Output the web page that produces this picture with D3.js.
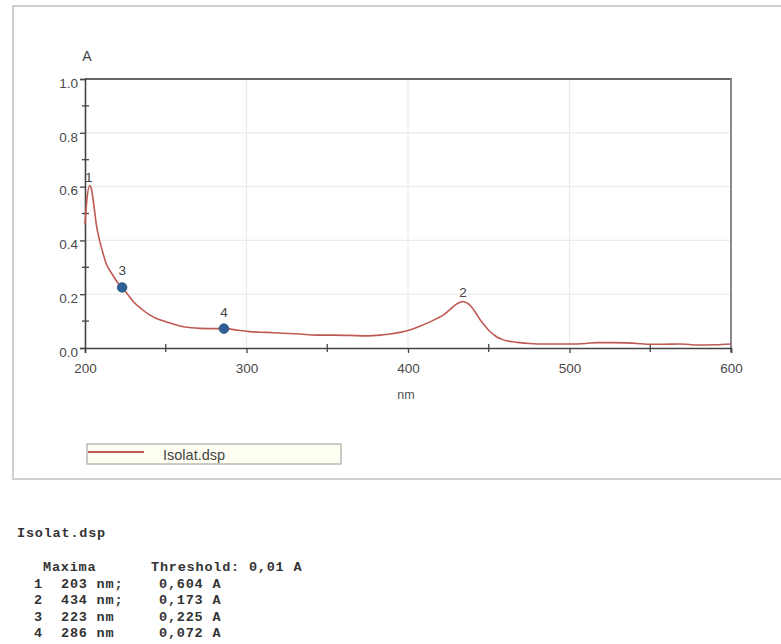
<!DOCTYPE html>
<html>
<head>
<meta charset="utf-8">
<script src="https://cdn.jsdelivr.net/npm/d3@7"></script>
<style>
  html, body { margin: 0; padding: 0; background: #fff; }
  svg { display: block; }
</style>
</head>
<body>
<svg id="chart" width="781" height="644"></svg>
<script>
// ---- data ----
const wavelengths = [200, 201, 203, 204, 205.5, 207, 209, 211, 213, 216.5, 221, 223, 226, 230, 235, 240, 245, 250, 255, 261, 266, 271, 280, 286, 295, 302, 312, 323, 333, 343, 354, 364, 374, 383, 389, 395, 401, 407, 414, 418, 422, 426, 430, 434, 437, 439, 442, 445, 448, 450, 453, 455, 458, 461, 465, 469, 475, 486, 500, 510, 517, 526, 535, 542, 548, 558, 568, 574, 579, 590, 600];
const absorbance  = [0.46, 0.54, 0.604, 0.59, 0.53, 0.46, 0.40, 0.355, 0.315, 0.278, 0.237, 0.225, 0.203, 0.172, 0.145, 0.123, 0.108, 0.098, 0.088, 0.079, 0.075, 0.073, 0.072, 0.072, 0.066, 0.061, 0.058, 0.055, 0.052, 0.048, 0.048, 0.047, 0.045, 0.048, 0.052, 0.058, 0.067, 0.080, 0.098, 0.110, 0.123, 0.143, 0.163, 0.173, 0.166, 0.155, 0.130, 0.102, 0.080, 0.066, 0.050, 0.041, 0.033, 0.027, 0.023, 0.020, 0.017, 0.015, 0.015, 0.017, 0.020, 0.020, 0.019, 0.017, 0.014, 0.014, 0.015, 0.013, 0.011, 0.012, 0.015];

const peakIds   = [1, 2, 3, 4];
const peakNm    = [203, 434, 223, 286];
const peakAbs   = [0.604, 0.173, 0.225, 0.072];
const peakSep   = [";", ";", "", ""];
const peakKind  = ["max", "max", "shoulder", "shoulder"];

const xTicks      = [200, 300, 400, 500, 600];
const xMinorTicks = [250, 350, 450, 550];
const yTicks      = [0, 0.2, 0.4, 0.6, 0.8, 1.0];
const yMinorTicks = [0.1, 0.3, 0.5, 0.7, 0.9];

const seriesName = "Isolat.dsp";
const xTitle = "nm";
const yTitle = "A";
const threshold = 0.01;

// ---- layout ----
const svg = d3.select("#chart");
const L = 85, R = 731, T = 79, B = 348;
const x = d3.scaleLinear().domain([200, 600]).range([L, R]);
const y = d3.scaleLinear().domain([0, 1]).range([B, T]);
const lineColor = "#bf5a52";
const fmtComma = v => d3.format(".3f")(v).replace(".", ",");

// outer frame
svg.append("rect").attr("x", 13).attr("y", 6).attr("width", 790).attr("height", 473)
  .attr("fill", "#fff").attr("stroke", "#cfcfcf").attr("stroke-width", 2);

// grid
const grid = svg.append("g");
grid.selectAll("line.gx").data(xTicks.slice(1, -1)).join("line")
  .attr("x1", d => x(d)).attr("x2", d => x(d)).attr("y1", T).attr("y2", B)
  .attr("stroke", "#ebebeb").attr("stroke-width", 1.2);
grid.selectAll("line.gy").data(yTicks.slice(1, -1)).join("line")
  .attr("x1", L).attr("x2", R).attr("y1", d => y(d)).attr("y2", d => y(d))
  .attr("stroke", "#ebebeb").attr("stroke-width", 1.2);

// top and right frame of plot
svg.append("line").attr("x1", L).attr("x2", R + 1).attr("y1", T).attr("y2", T)
  .attr("stroke", "#666").attr("stroke-width", 2);
svg.append("line").attr("x1", R).attr("x2", R).attr("y1", T).attr("y2", B + 4)
  .attr("stroke", "#8a8a8a").attr("stroke-width", 2);

// axes
const tickFont = "13.5px 'Liberation Sans', Arial, sans-serif";
const yAxis = svg.append("g").attr("transform", `translate(${L},0)`)
  .call(d3.axisLeft(y).tickValues(yTicks).tickFormat(d3.format(".1f")).tickSize(5).tickPadding(2));
yAxis.select(".domain").attr("stroke", "#444").attr("stroke-width", 1.6);
yAxis.selectAll(".tick line").attr("stroke", "#444").attr("stroke-width", 1.3);
yAxis.selectAll(".tick text").attr("fill", "#4a4a4a").style("font", tickFont).attr("dy", "0.62em");

const xAxis = svg.append("g").attr("transform", `translate(0,${B})`)
  .call(d3.axisBottom(x).tickValues(xTicks).tickFormat(d3.format("d")).tickSize(5).tickPadding(10));
xAxis.select(".domain").attr("stroke", "#444").attr("stroke-width", 1.6);
xAxis.selectAll(".tick line").attr("stroke", "#444").attr("stroke-width", 1.3);
xAxis.selectAll(".tick text").attr("fill", "#4a4a4a").style("font", tickFont);

// minor ticks crossing the axes
svg.append("g").selectAll("line").data(yMinorTicks).join("line")
  .attr("x1", L - 3).attr("x2", L + 4).attr("y1", d => y(d)).attr("y2", d => y(d))
  .attr("stroke", "#444").attr("stroke-width", 1.3);
svg.append("g").selectAll("line").data(xMinorTicks).join("line")
  .attr("x1", d => x(d)).attr("x2", d => x(d)).attr("y1", B - 4).attr("y2", B + 4)
  .attr("stroke", "#444").attr("stroke-width", 1.3);

// axis titles
svg.append("text").attr("x", 87).attr("y", 61).attr("text-anchor", "middle")
  .attr("fill", "#444").style("font", "14px 'Liberation Sans', Arial, sans-serif").text(yTitle);
svg.append("text").attr("x", 406).attr("y", 399).attr("text-anchor", "middle")
  .attr("fill", "#555").style("font", "12.5px 'Liberation Sans', Arial, sans-serif").text(xTitle);

// spectrum
const pts = wavelengths.map((w, i) => [w, absorbance[i]]);
svg.append("path").datum(pts)
  .attr("fill", "none").attr("stroke", lineColor).attr("stroke-width", 1.6)
  .attr("d", d3.line().x(d => x(d[0])).y(d => y(d[1])).curve(d3.curveMonotoneX));

// peak markers & labels
const peaks = peakIds.map((id, i) => ({ id, nm: peakNm[i], a: peakAbs[i], sep: peakSep[i], kind: peakKind[i] }));
svg.append("g").selectAll("circle").data(peaks.filter(p => p.kind === "shoulder")).join("circle")
  .attr("cx", d => x(d.nm)).attr("cy", d => y(d.a)).attr("r", 4.8)
  .attr("fill", "#2f5f97").attr("stroke", "#244b7a").attr("stroke-width", 0.8);
svg.append("g").selectAll("text").data(peaks).join("text")
  .attr("x", d => x(d.nm) - (d.id === 1 ? 1 : 0)).attr("y", d => y(d.a) - (d.kind === "shoulder" ? 12 : 4))
  .attr("text-anchor", "middle").attr("fill", "#444")
  .style("font", "13.5px 'Liberation Sans', Arial, sans-serif").text(d => d.id);

// legend
const lg = svg.append("g");
lg.append("rect").attr("x", 87).attr("y", 444).attr("width", 254).attr("height", 20)
  .attr("fill", "#fefef2").attr("stroke", "#a8a8a8").attr("stroke-width", 1.2);
lg.append("line").attr("x1", 88).attr("x2", 144).attr("y1", 452).attr("y2", 452)
  .attr("stroke", lineColor).attr("stroke-width", 1.8);
lg.append("text").attr("x", 163).attr("y", 459.5).attr("fill", "#444")
  .style("font", "14.5px 'Liberation Sans', Arial, sans-serif").text(seriesName);

// report text
const mono = "bold 13.5px 'Liberation Mono', 'DejaVu Sans Mono', monospace";
const rep = svg.append("g").attr("fill", "#333").style("font", mono).style("letter-spacing", "0.8px");
rep.append("text").attr("x", 17).attr("y", 537).text(seriesName);
rep.append("text").attr("x", 43).attr("y", 571).text("Maxima");
rep.append("text").attr("x", 151).attr("y", 571).text("Threshold: " + String(threshold).replace(".", ",") + " A");
const rowY = i => 587.5 + i * 16.6;
rep.selectAll("text.idx").data(peaks).join("text").attr("class", "idx")
  .attr("x", 43).attr("y", (d, i) => rowY(i)).attr("text-anchor", "end").text(d => d.id);
rep.selectAll("text.nm").data(peaks).join("text").attr("class", "nm")
  .attr("x", 61).attr("y", (d, i) => rowY(i)).text(d => d.nm + " nm" + d.sep);
rep.selectAll("text.ab").data(peaks).join("text").attr("class", "ab")
  .attr("x", 159).attr("y", (d, i) => rowY(i)).text(d => fmtComma(d.a) + " A");
</script>
</body>
</html>
